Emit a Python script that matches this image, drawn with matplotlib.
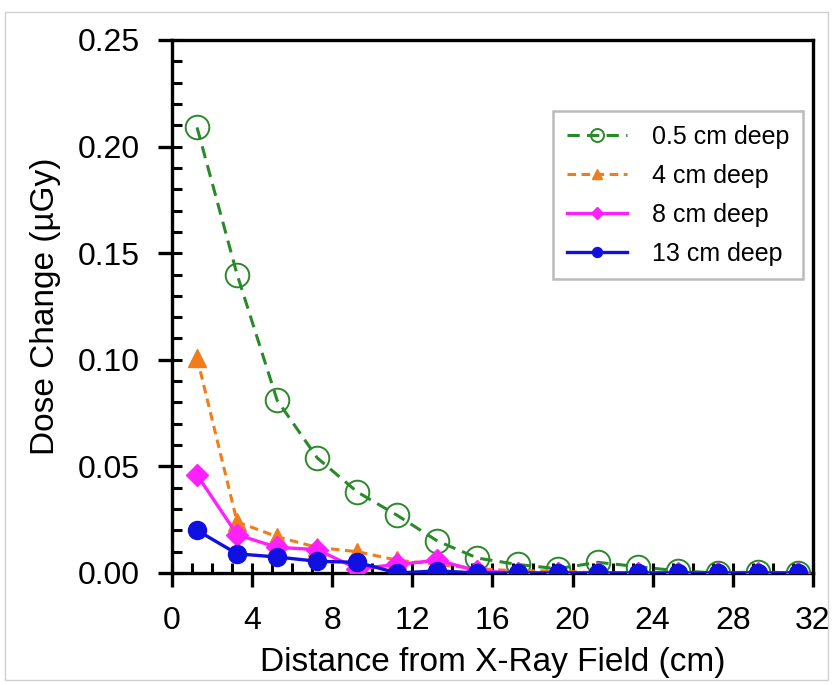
import matplotlib
matplotlib.use("Agg")
import matplotlib.pyplot as plt
from matplotlib.ticker import MultipleLocator, FormatStrFormatter
from matplotlib.patches import Rectangle

plt.rcParams['font.family'] = ['Liberation Sans', 'DejaVu Sans']

distance = [1.25, 3.25, 5.25, 7.25, 9.25, 11.25, 13.25, 15.25,
            17.25, 19.25, 21.25, 23.25, 25.25, 27.25, 29.25, 31.25]
dose_05 = [0.209, 0.140, 0.081, 0.054, 0.038, 0.027, 0.015, 0.007,
           0.004, 0.002, 0.005, 0.003, 0.001, 0.000, 0.0005, 0.000]
dose_4 = [0.101, 0.024, 0.017, 0.012, 0.010, 0.006, 0.004, 0.002,
          0.001, 0.001, 0.000, 0.000, 0.000, 0.000, 0.000, 0.000]
dose_8 = [0.046, 0.018, 0.012, 0.011, 0.002, 0.004, 0.006, 0.001,
          0.000, 0.000, 0.000, 0.000, 0.000, 0.000, 0.000, 0.000]
dose_13 = [0.020, 0.009, 0.0075, 0.0055, 0.005, 0.000, 0.001, 0.000,
           0.000, 0.000, 0.000, 0.000, 0.000, 0.000, 0.000, 0.000]
labels = ["0.5 cm deep", "4 cm deep", "8 cm deep", "13 cm deep"]

fig = plt.figure(figsize=(8.33, 6.85), dpi=100)
ax = fig.add_axes([172/833, 1-573/685, (813-172)/833, (573-40)/685])

ax.plot(distance, dose_05, color='#2a8a2a', linestyle=(0, (4, 2.4)), lw=2.2,
        marker='o', ms=17, mfc='none', mec='#2a8a2a', mew=1.4, label=labels[0], zorder=3)
ax.plot(distance, dose_4, color='#f07d1a', linestyle=(0, (2.8, 1.8)), lw=2.2,
        marker='^', ms=13, mfc='#f07d1a', mec='#f07d1a', label=labels[1], zorder=4)
ax.plot(distance, dose_8, color='#ff1fff', linestyle='-', lw=2.4,
        marker='D', ms=11, mfc='#ff1fff', mec='#ff1fff', label=labels[2], zorder=5)
ax.plot(distance, dose_13, color='#1010e0', linestyle='-', lw=2.4,
        marker='o', ms=13, mfc='#1010e0', mec='#1010e0', label=labels[3], zorder=6)

ax.set_xlim(0, 32)
ax.set_ylim(0, 0.25)
ax.xaxis.set_major_locator(MultipleLocator(4))
ax.xaxis.set_minor_locator(MultipleLocator(1))
ax.yaxis.set_major_locator(MultipleLocator(0.05))
ax.yaxis.set_minor_locator(MultipleLocator(0.01))
ax.xaxis.remove_overlapping_locs = False
ax.yaxis.remove_overlapping_locs = False
ax.yaxis.set_major_formatter(FormatStrFormatter('%.2f'))
ax.tick_params(which='major', direction='out', length=10, width=2.4, labelsize=23)
ax.tick_params(axis='x', which='major', pad=14)
ax.tick_params(axis='y', which='major', pad=13)
ax.tick_params(which='minor', direction='in', length=7, width=2.2)
for s in ax.spines.values():
    s.set_linewidth(2.4)

ax.set_xlabel("Distance from X-Ray Field (cm)", fontsize=24, labelpad=8)
ax.set_ylabel("Dose Change (µGy)", fontsize=24, labelpad=12)

leg = ax.legend(loc='upper right', bbox_to_anchor=(0.984, 0.867), fontsize=18,
                frameon=True, fancybox=False, edgecolor='#aaaaaa',
                handlelength=2.4, handletextpad=1.0, labelspacing=0.6,
                borderpad=0.55, borderaxespad=0, markerscale=0.55)
leg.get_frame().set_linewidth(1.8)

fig.patches.append(Rectangle((5/833, 5/685), 1-10/833, 1-17/685, transform=fig.transFigure,
                             fill=False, edgecolor='#d0d0d0', lw=1))

fig.savefig("out.png", dpi=100)
